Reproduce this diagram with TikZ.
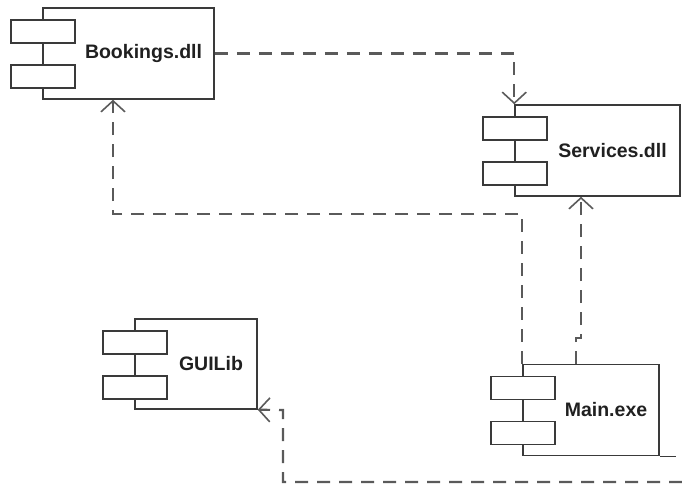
\documentclass[tikz,border=0pt]{standalone}
\usepackage{fontspec}
\setmainfont{Liberation Sans}
\usetikzlibrary{arrows.meta}

\definecolor{outline}{HTML}{3A3A3A}
\definecolor{depline}{HTML}{5A5A5A}
\definecolor{labeltext}{HTML}{202020}

\tikzset{
  compbody/.style={draw=outline, line width=1.5pt, fill=white, inner sep=0pt, rectangle},
  comptab/.style={draw=outline, line width=1.5pt, fill=white, inner sep=0pt, rectangle,
                  minimum width=64pt, minimum height=23pt},
  complabel/.style={inner sep=0pt, text=labeltext,
                    font=\fontsize{19.5}{22}\selectfont\bfseries},
  depend/.style={draw=depline, line width=2.2pt, dash pattern=on 13pt off 9pt,
                 -{Straight Barb[length=11pt, width=24pt, line width=1.6pt]}},
}

% component: name, x, y, width, height, label
\newcommand{\umlcomp}[6]{%
  \node[compbody, minimum width=#4, minimum height=#5] (#1) at (#2,#3) {};
  \node[comptab, anchor=north west] (#1-t1) at ([xshift=-32pt,yshift=-12pt]#1.north west) {};
  \node[comptab, anchor=north west] (#1-t2) at ([xshift=-32pt,yshift=-57pt]#1.north west) {};
  \node[complabel] (#1-l) at ([xshift=15pt]#1.center) {#6};
}

\begin{document}
\begin{tikzpicture}[x=1pt, y=-1pt]
  \useasboundingbox (0,0) rectangle (682,485);

  \umlcomp{book}{128.5}{53.5}{171pt}{91pt}{Bookings.dll}
  \umlcomp{serv}{597.5}{150.5}{165pt}{91pt}{Services.dll}
  \umlcomp{gui}{196}{364}{122pt}{90pt}{GUILib}
  \umlcomp{main}{591}{410}{136pt}{91pt}{Main.exe}

  % bottom edge of Main.exe runs a little past its right side
  \coordinate (mainext) at ([xshift=16pt]main.south east);
  \draw[outline, line width=1.5pt] (main.south east) -- (mainext);

  % Bookings.dll depends on Services.dll
  \draw[depend] (book.east) -| (serv.north west);

  % Main.exe depends on Bookings.dll
  \coordinate (mbturn) at (113,214);
  \draw[depend] (main.north west) |- (mbturn) -- (mbturn |- book.south);

  % Main.exe depends on Services.dll
  \coordinate (msfoot) at (576,364);
  \coordinate (msjog) at (576,338);
  \coordinate (msup) at (581,338);
  \draw[depend] (msfoot) -- (msjog) -- (msup) -- (msup |- serv.south);

  % dependency arriving at GUILib from the right
  \coordinate (guistart) at (682,482);
  \coordinate (guiturn) at (283,482);
  \coordinate (guiup) at (283,410);
  \draw[depend] (guistart) -- (guiturn) -- (guiup) -- (gui.south east);
\end{tikzpicture}
\end{document}
